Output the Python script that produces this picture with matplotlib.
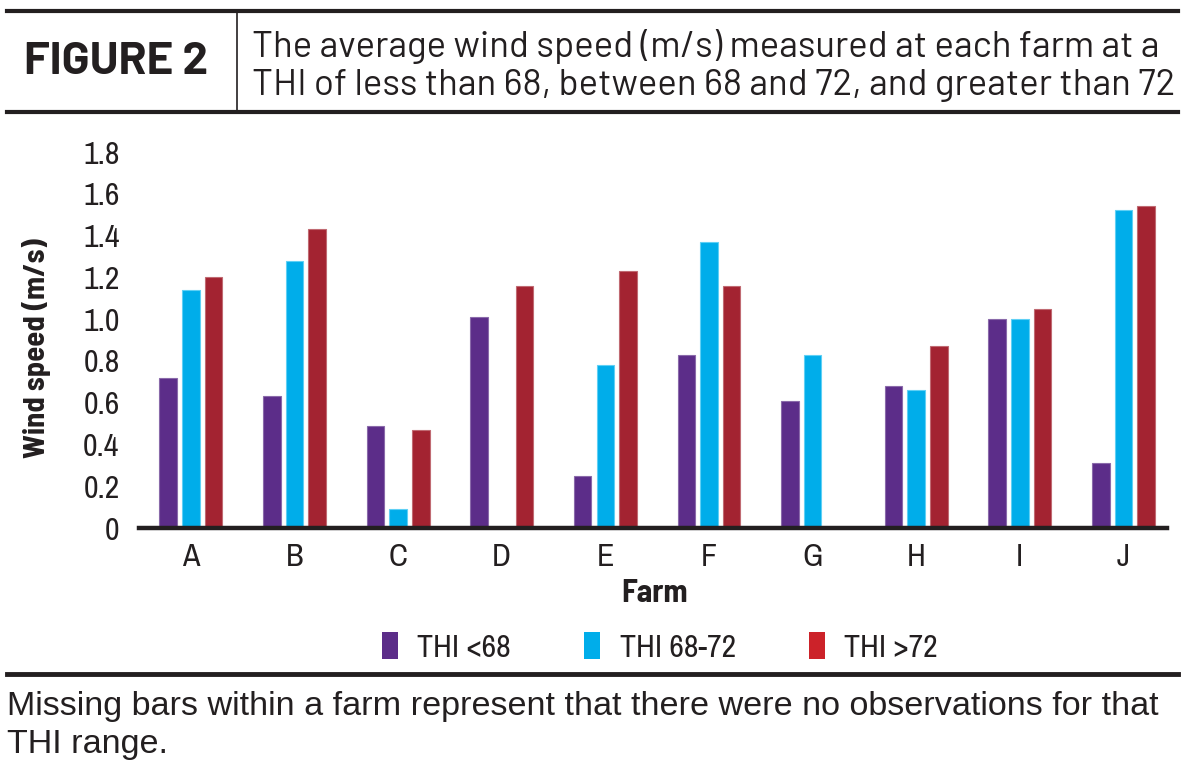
import matplotlib
matplotlib.use("Agg")
import matplotlib.pyplot as plt
from matplotlib.lines import Line2D
from matplotlib.patches import Patch
import numpy as np

farms = ["A", "B", "C", "D", "E", "F", "G", "H", "I", "J"]
thi_low = [0.72, 0.63, 0.49, 1.01, 0.25, 0.83, 0.61, 0.68, 1.00, 0.31]
thi_mid = [1.14, 1.28, 0.09, np.nan, 0.78, 1.37, 0.83, 0.66, 1.00, 1.52]
thi_high = [1.20, 1.43, 0.47, 1.16, 1.23, 1.16, np.nan, 0.87, 1.05, 1.54]
series_labels = ["THI <68", "THI 68-72", "THI >72"]
yticks = [0, 0.2, 0.4, 0.6, 0.8, 1.0, 1.2, 1.4, 1.6, 1.8]
ytick_labels = ["0", "0.2", "0.4", "0.6", "0.8", "1.0", "1.2", "1.4", "1.6", "1.8"]

bar_colors = ["#5c2d89", "#00adea", "#a32331"]
edge_colors = ["#8a6aaa", "#5fd0f5", "#c06a72"]
legend_colors = ["#5c2d89", "#00adea", "#cc2229"]

narrow = ["Archivo Narrow", "DejaVu Sans"]
narrow_bold = ["Barlow Semi Condensed", "DejaVu Sans"]
head = ["Barlow", "Barlow Semi Condensed", "DejaVu Sans"]
note = ["Liberation Sans", "DejaVu Sans"]
ink = "#231f20"
W, H = 1200, 782

fig = plt.figure(figsize=(12, 7.82), dpi=100)

# header rules and divider
def hline(y, x0=7, x1=1178, lw=3.0):
    fig.add_artist(Line2D([x0 / W, x1 / W], [1 - y / H, 1 - y / H],
                          color=ink, lw=lw, transform=fig.transFigure))

hline(10.5)
hline(112)
hline(674, lw=3.5)
fig.add_artist(Line2D([237 / W, 237 / W], [1 - 12 / H, 1 - 111 / H],
                      color=ink, lw=1.2, transform=fig.transFigure))

fig.text(116 / W, 1 - 63 / H, "FIGURE 2", fontsize=33, fontweight="bold",
         family=head, ha="center", va="center", color=ink)
fig.text(252 / W, 1 - 47 / H,
         "The average wind speed (m/s) measured at each farm at a",
         fontsize=26.4, family=head, ha="left", va="center", color=ink)
fig.text(252 / W, 1 - 85 / H,
         "THI of less than 68, between 68 and 72, and greater than 72",
         fontsize=26.4, family=head, ha="left", va="center", color=ink)

# chart
ax = fig.add_axes([139 / W, 1 - 528 / H, (1167 - 139) / W, (528 - 152) / H])
x = np.arange(len(farms))
pitch = 0.219
width = 0.169
for i, vals in enumerate([thi_low, thi_mid, thi_high]):
    ax.bar(x + (i - 1) * pitch, vals, width=width, color=bar_colors[i],
           edgecolor=edge_colors[i], linewidth=0.8, zorder=2)

ax.set_xlim(-0.50, 9.42)
ax.set_ylim(0, 1.8)
ax.set_yticks(yticks)
ax.set_yticklabels(ytick_labels)
ax.set_xticks(x)
ax.set_xticklabels(farms)
for sp in ["top", "right", "left"]:
    ax.spines[sp].set_visible(False)
ax.spines["bottom"].set_linewidth(3.2)
ax.spines["bottom"].set_color(ink)
ax.spines["bottom"].set_zorder(3)
ax.tick_params(axis="both", length=0, labelsize=23, labelcolor=ink)
ax.tick_params(axis="y", pad=14)
ax.tick_params(axis="x", pad=11)
for lab in ax.get_xticklabels() + ax.get_yticklabels():
    lab.set_family(narrow)

fig.text(655 / W, 1 - 594 / H, "Farm", fontsize=23, fontweight="bold",
         family=narrow_bold, ha="center", va="center", color=ink)
fig.text(37 / W, 1 - 348 / H, "Wind speed (m/s)", fontsize=22, fontweight="bold",
         family=narrow_bold, ha="center", va="center", rotation=90, color=ink)

handles = [Patch(facecolor=c, edgecolor="none") for c in legend_colors]
leg = fig.legend(handles, series_labels, loc="center", bbox_to_anchor=(660 / W, 1 - 647 / H),
                 ncol=3, frameon=False, handlelength=0.5, handleheight=0.9,
                 handletextpad=0.6, columnspacing=2.3,
                 prop={"family": narrow, "size": 23})
for t in leg.get_texts():
    t.set_color(ink)

fig.text(7 / W, 1 - 706 / H,
         "Missing bars within a farm represent that there were no observations for that",
         fontsize=24.6, family=note, ha="left", va="center", color=ink)
fig.text(7 / W, 1 - 745 / H, "THI range.",
         fontsize=24.6, family=note, ha="left", va="center", color=ink)

fig.savefig("out.png", dpi=100)
